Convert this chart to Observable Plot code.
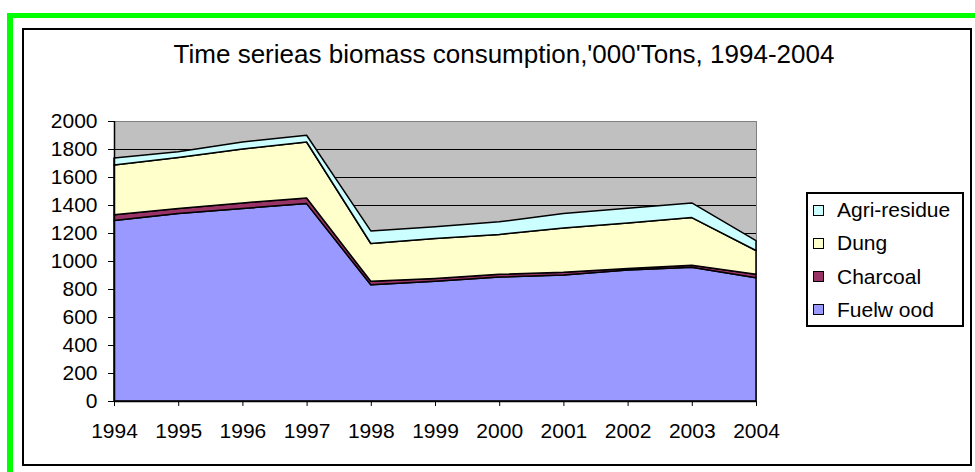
<!DOCTYPE html>
<html>
<head>
<meta charset="utf-8">
<script src="https://cdn.jsdelivr.net/npm/d3@7"></script>
<script src="https://cdn.jsdelivr.net/npm/@observablehq/plot@0.6"></script>
<style>
  html, body { margin: 0; padding: 0; background: #fff; }
  #page { position: relative; width: 975px; height: 472px; overflow: hidden; background: #fff;
          font-family: "Liberation Sans", Arial, sans-serif; color: #000; }
  #green { position: absolute; left: 7px; top: 13px; width: 1200px; height: 800px;
           border-left: 6px solid #00ff00; border-top: 5px solid #00ff00; }
  #blackframe { position: absolute; left: 22px; top: 28px; width: 950px; height: 438px;
                box-sizing: border-box; border: 2px solid #000; }
  #title { position: absolute; left: 104px; width: 800px; top: 39px; text-align: center;
           font-size: 26px; line-height: 30px; white-space: nowrap; }
  #chart { position: absolute; left: 0; top: 0; }
  #legend { position: absolute; left: 806px; top: 192px; width: 158px; height: 135px;
            box-sizing: border-box; border: 2px solid #000; background: #fff; }
  .item { position: absolute; left: 5px; height: 24px; display: flex; align-items: center;
          font-size: 21px; white-space: nowrap; }
  .sw { width: 9px; height: 9px; border: 1px solid #000; margin-right: 13px; }
</style>
</head>
<body>
<div id="page">
  <div id="green"></div>
  <div id="blackframe"></div>
  <div id="title"></div>
  <div id="chart"></div>
  <div id="legend"></div>
</div>
<script>
const titleText = "Time serieas biomass consumption,'000'Tons, 1994-2004";
const years = [1994, 1995, 1996, 1997, 1998, 1999, 2000, 2001, 2002, 2003, 2004];
const fuelwood = [1290, 1340, 1375, 1410, 830, 855, 885, 900, 935, 955, 880];
const charcoal = [40, 35, 40, 40, 25, 20, 20, 20, 12, 15, 25];
const dung = [355, 365, 385, 400, 270, 285, 285, 315, 325, 340, 170];
const agri = [50, 40, 50, 48, 90, 85, 90, 105, 105, 105, 70];
const seriesNames = ["Fuelwood", "Charcoal", "Dung", "Agri-residue"];
const legendLabels = ["Fuelw ood", "Charcoal", "Dung", "Agri-residue"];
const seriesColors = ["#9999ff", "#993366", "#ffffcc", "#ccffff"];
const yTicks = [0, 200, 400, 600, 800, 1000, 1200, 1400, 1600, 1800, 2000];

const valuesBySeries = [fuelwood, charcoal, dung, agri];
const data = seriesNames.flatMap((s, i) =>
  years.map((yr, j) => ({year: yr, series: s, value: valuesBySeries[i][j]})));

document.getElementById("title").textContent = titleText;

const chart = Plot.plot({
  width: 975,
  height: 472,
  marginLeft: 114,
  marginRight: 219,
  marginTop: 121,
  marginBottom: 71,
  style: {fontFamily: "'Liberation Sans', Arial, sans-serif", fontSize: "21px", color: "#000", background: "transparent", overflow: "visible"},
  x: {type: "linear", domain: [years[0], years[years.length - 1]]},
  y: {domain: [yTicks[0], yTicks[yTicks.length - 1]]},
  color: {domain: seriesNames, range: seriesColors},
  marks: [
    Plot.frame({fill: "#c0c0c0", stroke: null}),
    Plot.ruleY(yTicks.slice(1, -1), {stroke: "#000", strokeWidth: 1}),
    Plot.frame({stroke: "#808080", strokeWidth: 1}),
    Plot.areaY(data, {x: "year", y: "value", z: "series", fill: "series", order: seriesNames,
                      stroke: "#000", strokeWidth: 1.5, strokeLinejoin: "round"}),
    Plot.ruleX([years[0]], {stroke: "#000", strokeWidth: 1.5}),
    Plot.ruleY([yTicks[0]], {stroke: "#000", strokeWidth: 1.5}),
    Plot.axisY({ticks: yTicks, tickSize: 6, tickPadding: 11, tickFormat: d => String(d), label: null}),
    Plot.axisX({ticks: years, tickSize: 5, tickPadding: 17, tickFormat: d => String(d), label: null})
  ]
});
document.getElementById("chart").appendChild(chart);

// legend (top to bottom: reverse stacking order)
const legend = document.getElementById("legend");
const order = [3, 2, 1, 0];
order.forEach((idx, k) => {
  const row = document.createElement("div");
  row.className = "item";
  row.style.top = (4 + k * 33.3) + "px";
  const sw = document.createElement("div");
  sw.className = "sw";
  sw.style.background = seriesColors[idx];
  const label = document.createElement("span");
  label.textContent = legendLabels[idx];
  row.appendChild(sw);
  row.appendChild(label);
  legend.appendChild(row);
});
</script>
</body>
</html>
